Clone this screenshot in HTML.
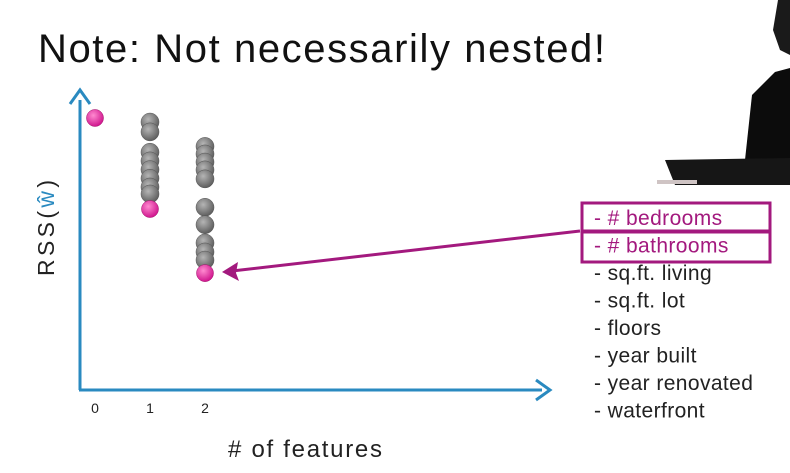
<!DOCTYPE html>
<html><head><meta charset="utf-8"><style>
html,body{margin:0;padding:0;background:#fff;}
svg{display:block;font-family:"Liberation Sans",sans-serif;}
</style></head><body>
<svg width="790" height="473" viewBox="0 0 790 473">
<defs>
<radialGradient id="gg" cx="40%" cy="35%" r="65%"><stop offset="0" stop-color="#b5b5b5"/><stop offset="1" stop-color="#5e5e5e"/></radialGradient>
<radialGradient id="pg" cx="40%" cy="35%" r="65%"><stop offset="0" stop-color="#ff8ad0"/><stop offset="1" stop-color="#d0168e"/></radialGradient>
</defs>
<text x="38" y="62" font-size="40" fill="#111" textLength="567" lengthAdjust="spacing">Note: Not necessarily nested!</text>
<g>
<path d="M778 0 L790 0 L790 55 L780 50 L773 30 Z" fill="#1a1a1a"/>
<path d="M745 160 L752 95 L775 72 L790 68 L790 165 Z" fill="#0c0c0c"/>
<path d="M665 160 L790 158 L790 185 L675 185 Z" fill="#161616"/>
<rect x="657" y="180" width="40" height="4" fill="#cfc4c4"/>
</g>
<g id="axes"></g>
<g id="marks"></g>
<text x="54" y="228" font-size="23" fill="#222" transform="rotate(-90 54 228)" text-anchor="middle" textLength="96" lengthAdjust="spacing">RSS(<tspan fill="#2a8ac0">ŵ</tspan>)</text>
<text x="228" y="457" font-size="24" fill="#222" textLength="154" lengthAdjust="spacing"># of features</text>
<g>
<line x1="580" y1="231" x2="232" y2="271" stroke="#a3197e" stroke-width="3"/>
<path d="M222 272 L238 262 L236 273 L239 281 Z" fill="#a3197e"/>
</g>
<rect x="582" y="203" width="188" height="28" fill="none" stroke="#a3197e" stroke-width="3"/>
<rect x="582" y="232" width="188" height="30" fill="none" stroke="#a3197e" stroke-width="3"/>
<g id="features" font-size="21"></g>
</svg>
<script>
const ticks=["0","1","2"];
const colCounts=[0,1,2];
const grayVals=[[],[92.4,89,82,79,76,73,70,67.6],[84,81.4,78.6,75.9,72.8,63,57,50.7,47.6,44.8]];
const pinkVals=[93.8,62.4,40.3];
const featureNames=["- # bedrooms","- # bathrooms","- sq.ft. living","- sq.ft. lot","- floors","- year built","- year renovated","- waterfront"];
const NS="http://www.w3.org/2000/svg";
const xs=n=>95+55*n, ys=v=>390-v*2.9;
function mk(t,a,p){const e=document.createElementNS(NS,t);for(const k in a)e.setAttribute(k,a[k]);p.appendChild(e);return e;}
const ax=document.getElementById('axes');
let l=mk('line',{x1:80,y1:390,x2:80,y2:100,stroke:'#2a8ac0','stroke-width':3},ax);


let p=mk('path',{d:'M70 104 L80 90 L90 104',fill:'none',stroke:'#2a8ac0','stroke-width':3},ax);


l=mk('line',{x1:79,y1:390,x2:542,y2:390,stroke:'#2a8ac0','stroke-width':3},ax);


p=mk('path',{d:'M536 380 L550 390 L536 400',fill:'none',stroke:'#2a8ac0','stroke-width':3},ax);


ticks.forEach((t,i)=>{const e=mk('text',{x:xs(colCounts[i]),y:413,'font-size':14,'text-anchor':'middle',fill:'#222'},ax);e.textContent=t;

});
const m=document.getElementById('marks');
grayVals.forEach((arr,i)=>arr.forEach(v=>{const c=mk('circle',{cx:xs(colCounts[i]),cy:ys(v),r:9,fill:'url(#gg)',stroke:'#555','stroke-width':0.5},m);

}));
pinkVals.forEach((v,i)=>{const c=mk('circle',{cx:xs(colCounts[i]),cy:ys(v),r:8.5,fill:'url(#pg)',stroke:'#a0106a','stroke-width':0.5},m);

});
const f=document.getElementById('features');
featureNames.forEach((n,i)=>{const e=mk('text',{x:594,y:225+27.5*i,fill:i<2?'#a3197e':'#222','letter-spacing':0.4},f);e.textContent=n.replace('- ','-  ');e.setAttribute('xml:space','preserve');

});
</script>
</body></html>
